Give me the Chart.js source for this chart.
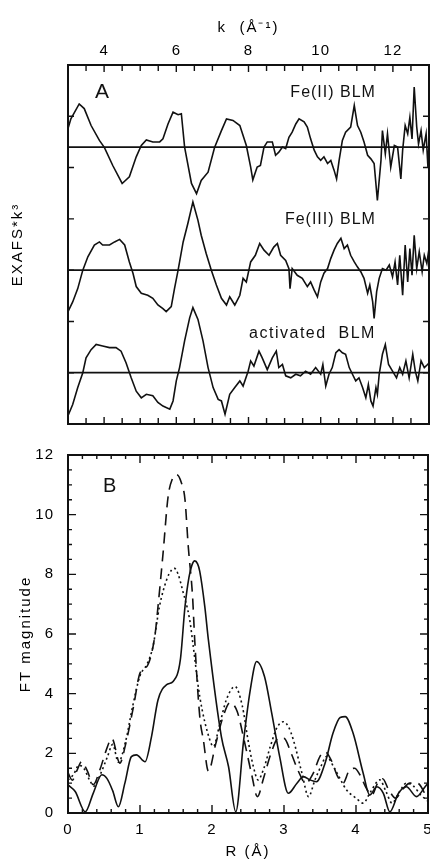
<!DOCTYPE html>
<html><head><meta charset="utf-8">
<script src="https://cdn.jsdelivr.net/npm/chart.js@4.4.0/dist/chart.umd.min.js"></script>
<style>
html,body{margin:0;padding:0;background:#fff;width:430px;height:863px;overflow:hidden}
#ca{position:absolute;left:0;top:0}
#cb{position:absolute;left:0;top:430px}
</style></head><body>
<canvas id="ca" width="430" height="432"></canvas>
<canvas id="cb" width="430" height="433"></canvas>
<script>
// ================= Panel A : EXAFS * k^3 =================
const kRange = [3, 13];
const kTickLabels = [4, 6, 8, 10, 12];
const exafsRange = [0, 7];
const seriesNamesA = ['Fe(II) BLM', 'Fe(III) BLM', 'activated  BLM'];
const seriesOffsetsA = [5.4, 3.0, 1.0];

const kFe2 = [3.0,3.08,3.31,3.45,3.64,3.87,4.01,4.24,4.5,4.7,4.89,5.03,5.17,5.35,5.54,5.63,5.77,5.91,6.05,6.14,6.23,6.42,6.56,6.69,6.88,7.06,7.25,7.39,7.57,7.76,7.94,8.06,8.12,8.24,8.33,8.43,8.52,8.66,8.75,8.84,8.94,9.03,9.12,9.21,9.31,9.4,9.54,9.63,9.72,9.82,9.91,10.0,10.09,10.19,10.28,10.37,10.44,10.51,10.6,10.69,10.83,10.93,11.02,11.11,11.2,11.3,11.39,11.48,11.57,11.67,11.71,11.79,11.85,11.94,12.04,12.13,12.22,12.27,12.34,12.41,12.47,12.53,12.59,12.66,12.71,12.78,12.84,12.92,12.97,13.0];
const sFe2 = [0.36,0.55,0.84,0.75,0.42,0.13,-0.01,-0.36,-0.71,-0.58,-0.19,0.03,0.14,0.10,0.10,0.16,0.45,0.68,0.63,0.65,0.0,-0.71,-0.91,-0.65,-0.49,-0.01,0.32,0.55,0.52,0.42,0.03,-0.39,-0.64,-0.39,-0.36,0.0,0.10,0.10,-0.16,-0.10,0.0,-0.03,0.19,0.29,0.45,0.55,0.49,0.39,0.16,-0.06,-0.19,-0.26,-0.19,-0.32,-0.26,-0.45,-0.62,-0.26,0.13,0.29,0.39,0.81,0.42,0.29,0.10,-0.16,-0.23,-0.32,-1.04,-0.26,0.32,-0.13,0.26,-0.39,0.03,0.0,-0.62,-0.06,0.42,0.26,0.58,0.16,1.17,0.39,0.06,0.32,-0.06,0.26,-0.39,0.06];

const kFe3 = [3.0,3.13,3.27,3.41,3.55,3.73,3.87,3.96,4.15,4.29,4.43,4.57,4.7,4.8,4.89,5.03,5.21,5.35,5.49,5.63,5.72,5.86,5.95,6.05,6.19,6.32,6.46,6.6,6.69,6.83,6.97,7.11,7.25,7.39,7.48,7.62,7.76,7.85,7.94,8.06,8.19,8.31,8.43,8.57,8.7,8.8,8.89,9.03,9.12,9.15,9.21,9.35,9.49,9.63,9.72,9.82,9.91,10.0,10.09,10.19,10.28,10.37,10.46,10.56,10.65,10.74,10.83,10.93,11.02,11.11,11.2,11.3,11.36,11.44,11.48,11.55,11.62,11.71,11.81,11.9,11.99,12.06,12.13,12.19,12.27,12.34,12.41,12.47,12.53,12.59,12.66,12.73,12.81,12.87,12.94,13.0];
const sFe3 = [-0.81,-0.62,-0.36,0.0,0.26,0.49,0.55,0.49,0.49,0.55,0.60,0.49,0.16,-0.06,-0.32,-0.45,-0.49,-0.55,-0.68,-0.75,-0.81,-0.71,-0.36,0.0,0.55,0.91,1.33,0.97,0.68,0.32,0.0,-0.29,-0.55,-0.68,-0.52,-0.68,-0.49,-0.16,-0.23,0.16,0.29,0.52,0.39,0.29,0.45,0.52,0.29,0.19,0.03,-0.36,0.03,-0.10,-0.16,-0.32,-0.23,-0.39,-0.52,-0.23,-0.06,0.03,0.23,0.39,0.52,0.62,0.42,0.49,0.29,0.16,0.06,-0.03,-0.16,-0.45,-0.29,-0.62,-0.94,-0.42,-0.16,0.03,0.0,0.10,-0.13,0.16,-0.29,0.29,-0.49,0.49,-0.23,0.42,-0.10,0.68,0.03,0.36,-0.03,0.29,0.13,0.42];

const kAct = [3.0,3.13,3.27,3.41,3.5,3.64,3.78,3.96,4.15,4.33,4.47,4.61,4.75,4.89,5.03,5.17,5.35,5.49,5.63,5.82,5.91,6.0,6.09,6.23,6.37,6.46,6.6,6.74,6.88,7.02,7.16,7.25,7.35,7.48,7.62,7.76,7.85,7.99,8.06,8.15,8.29,8.38,8.52,8.66,8.77,8.84,8.94,9.03,9.17,9.31,9.44,9.58,9.72,9.86,10.0,10.06,10.14,10.23,10.32,10.42,10.51,10.6,10.69,10.79,10.88,10.97,11.06,11.16,11.25,11.32,11.39,11.45,11.53,11.57,11.62,11.71,11.79,11.88,11.99,12.1,12.19,12.27,12.36,12.45,12.55,12.62,12.69,12.78,12.87,12.96,13.0];
const sAct = [-0.84,-0.62,-0.29,0.0,0.29,0.45,0.55,0.52,0.49,0.49,0.42,0.19,-0.10,-0.36,-0.49,-0.42,-0.45,-0.58,-0.65,-0.71,-0.55,-0.16,0.10,0.62,1.07,1.27,1.04,0.62,0.10,-0.29,-0.52,-0.55,-0.81,-0.42,-0.29,-0.16,-0.26,0.03,0.23,0.13,0.42,0.29,0.06,0.29,0.42,0.10,0.16,-0.06,-0.10,-0.03,-0.06,0.03,-0.03,0.10,-0.03,0.16,-0.26,-0.03,0.10,0.39,0.45,0.39,0.36,0.10,-0.03,-0.16,-0.10,-0.29,-0.49,-0.23,-0.55,-0.65,-0.29,-0.42,-0.03,0.36,0.55,0.16,0.03,-0.10,0.10,-0.03,0.23,-0.10,0.36,0.03,-0.16,0.23,0.10,0.16,0.19];

// ================= Panel B : FT magnitude =================
const rRange = [0, 5];
const rTickLabels = [0, 1, 2, 3, 4, 5];
const ftRange = [0, 12];
const ftTickLabels = [0, 2, 4, 6, 8, 10, 12];

const rSolid = [0,0.1,0.24,0.35,0.47,0.54,0.62,0.7,0.79,0.88,0.95,1.07,1.16,1.25,1.37,1.46,1.56,1.625,1.68,1.72,1.76,1.8,1.83,1.9,1.95,2.13,2.23,2.33,2.44,2.53,2.62,2.73,2.83,2.94,3.06,3.18,3.27,3.36,3.45,3.57,3.68,3.78,3.85,3.96,4.1,4.19,4.29,4.38,4.47,4.59,4.7,4.84,4.96,5.0];
const ftSolid = [0.94,0.72,0.04,0.66,1.28,1.16,0.75,0.21,1.0,1.89,1.95,1.72,2.56,3.79,4.3,4.41,5.13,6.92,7.9,8.3,8.45,8.35,8.1,6.92,5.8,2.56,1.55,0.04,2.45,4.1,5.08,4.57,3.34,1.89,0.66,1.0,1.22,1.11,1.05,1.67,2.67,3.2,3.23,2.67,1.33,0.6,0.88,0.66,0.04,0.66,0.88,0.55,0.88,1.0];

const rDash = [0,0.06,0.12,0.19,0.27,0.35,0.45,0.53,0.61,0.72,0.8,0.91,1.0,1.11,1.21,1.25,1.32,1.39,1.45,1.51,1.57,1.625,1.67,1.73,1.76,1.83,1.88,1.95,2.05,2.15,2.25,2.35,2.45,2.55,2.63,2.72,2.82,2.92,3.0,3.1,3.2,3.3,3.4,3.5,3.57,3.65,3.75,3.82,3.9,3.98,4.05,4.15,4.22,4.3,4.37,4.45,4.55,4.65,4.75,4.85,5.0];
const ftDash = [1.35,1.1,1.4,1.72,1.4,0.95,1.5,2.1,2.5,1.67,2.3,3.57,4.69,4.97,6.0,6.92,8.7,10.6,11.2,11.34,11.1,10.5,8.94,7.26,5.8,3.23,2.45,1.4,2.3,3.2,3.7,3.4,2.4,1.3,0.55,1.2,2.0,2.5,2.5,2.0,1.4,1.0,1.3,1.9,2.05,1.8,1.2,1.0,1.4,1.5,1.3,0.8,0.6,1.0,1.15,0.8,0.5,0.8,1.0,1.0,0.45];

const rDot = [0,0.08,0.15,0.22,0.3,0.36,0.45,0.55,0.62,0.7,0.8,0.9,1.0,1.1,1.18,1.27,1.37,1.44,1.48,1.53,1.59,1.69,1.74,1.83,1.97,2.02,2.1,2.2,2.32,2.42,2.5,2.57,2.64,2.72,2.81,2.9,2.99,3.06,3.13,3.25,3.34,3.43,3.52,3.59,3.7,3.87,4.0,4.1,4.2,4.33,4.42,4.5,4.6,4.7,4.8,4.9,5.0];
const ftDot = [1.1,1.3,1.6,1.5,1.1,0.9,1.3,1.9,2.3,1.7,2.4,3.6,4.6,5.0,5.58,6.92,7.82,8.15,8.2,8.0,7.48,6.48,5.58,3.9,2.45,2.23,2.9,3.8,4.24,3.6,2.45,1.6,1.11,1.5,2.23,2.85,3.06,2.9,2.45,1.33,0.55,1.11,1.6,1.89,1.5,0.77,0.5,0.33,0.7,1.11,0.7,0.33,0.7,1.0,0.9,0.6,0.4];

// ================= helpers =================
const FONT = "'Liberation Sans', Arial, Helvetica, sans-serif";
Chart.defaults.font.family = FONT;
Chart.defaults.color = '#000';
const INK = '#111';

// letter spacing: tick labels vs. axis titles (scanned typesetting is loosely spaced)
const spacingPlugin = (labelSp, titleSp) => ({
  id: 'spacing',
  beforeUpdate(c) { c.ctx.letterSpacing = labelSp; },
  afterLayout(c) {
    Object.values(c.scales).forEach(s => {
      if (s._spWrapped) return;
      const orig = s.drawTitle;
      s.drawTitle = function () {
        const ctx = this.ctx, prev = ctx.letterSpacing;
        ctx.letterSpacing = titleSp;
        orig.apply(this, arguments);
        ctx.letterSpacing = prev;
      };
      s._spWrapped = true;
    });
  },
  beforeDraw(c) { c.ctx.letterSpacing = labelSp; }
});

function pts(xs, ys, off) { return xs.map((x, i) => ({x: x, y: ys[i] + (off || 0)})); }

function frameTicks(cfg) {
  return {
    id: 'frameTicks',
    afterDatasetsDraw(chart) {
      const {ctx, chartArea: a, scales: {x, y}} = chart;
      ctx.save();
      ctx.strokeStyle = INK;
      ctx.lineWidth = 1.4;
      ctx.beginPath();
      const steps = (min, max, st) => { const out = []; const n = Math.round((max - min) / st); for (let i = 0; i <= n; i++) out.push(+(min + i * st).toFixed(4)); return out; };
      steps(x.min, x.max, cfg.xMinor).forEach(v => {
        const major = cfg.xMajor.some(m => Math.abs(m - v) < 1e-6);
        const L = major ? cfg.majLen : cfg.minLen;
        const px = x.getPixelForValue(v);
        ctx.moveTo(px, a.top); ctx.lineTo(px, a.top + L);
        ctx.moveTo(px, a.bottom); ctx.lineTo(px, a.bottom - L);
      });
      steps(y.min, y.max, cfg.yMinor).forEach(v => {
        const major = cfg.yMajor.some(m => Math.abs(m - v) < 1e-6);
        const L = major ? cfg.majLen : cfg.minLen;
        const py = y.getPixelForValue(v);
        ctx.moveTo(a.left, py); ctx.lineTo(a.left + L, py);
        ctx.moveTo(a.right, py); ctx.lineTo(a.right - L, py);
      });
      ctx.stroke();
      ctx.lineWidth = 2;
      ctx.strokeRect(a.left, a.top, a.right - a.left, a.bottom - a.top);
      ctx.restore();
    }
  };
}

function labelsPlugin(items) {
  return {
    id: 'labels',
    afterDraw(chart) {
      const {ctx, scales: {x, y}} = chart;
      ctx.save();
      ctx.fillStyle = INK;
      ctx.textBaseline = 'middle';
      items.forEach(it => {
        ctx.font = it.size + 'px ' + FONT;
        ctx.letterSpacing = it.sp;
        ctx.textAlign = it.align;
        ctx.fillText(it.text, x.getPixelForValue(it.x), y.getPixelForValue(it.y));
      });
      ctx.restore();
    }
  };
}

const zeroPad = (s) => { s.paddingLeft = 0; s.paddingRight = 0; s.paddingTop = 0; s.paddingBottom = 0; };
const noGrid = {display: false, drawTicks: false};

// ================= Chart A =================
const lineA = (data, w) => ({data, borderColor: INK, borderWidth: w, pointRadius: 0, tension: 0, fill: false});
const dsA = [
  lineA(pts(kFe2, sFe2, seriesOffsetsA[0]), 1.6),
  lineA(pts(kFe3, sFe3, seriesOffsetsA[1]), 1.6),
  lineA(pts(kAct, sAct, seriesOffsetsA[2]), 1.6)
];
seriesOffsetsA.forEach(off => dsA.push(lineA([{x: kRange[0], y: off}, {x: kRange[1], y: off}], 1.8)));

new Chart(document.getElementById('ca'), {
  type: 'line',
  data: {datasets: dsA},
  options: {
    responsive: false, animation: false, events: [],
    layout: {padding: {left: 0, right: 1, top: 0, bottom: 8}},
    plugins: {legend: {display: false}, tooltip: {enabled: false}},
    scales: {
      x: {
        type: 'linear', position: 'top', min: kRange[0], max: kRange[1],
        grid: noGrid, border: {display: false},
        afterBuildTicks: s => { s.ticks = kTickLabels.map(v => ({value: v})); },
        afterFit: s => { s.height = 65; zeroPad(s); },
        ticks: {font: {size: 15}, padding: 5, maxRotation: 0},
        title: {display: true, text: 'k  (Å⁻¹)', font: {size: 15}, padding: {top: 19, bottom: 0}}
      },
      y: {
        type: 'linear', min: exafsRange[0], max: exafsRange[1],
        grid: noGrid, border: {display: false},
        ticks: {display: false},
        afterFit: s => { s.width = 68; zeroPad(s); },
        title: {display: true, text: 'EXAFS*k³', font: {size: 15}, padding: {top: 9, bottom: 0}}
      }
    }
  },
  plugins: [spacingPlugin('1px', '2px'),
    frameTicks({xMinor: 0.5, xMajor: kTickLabels, yMinor: 1, yMajor: [], majLen: 7, minLen: 6}),
    labelsPlugin([
      {text: 'A', x: 3.94, y: 6.47, size: 21, align: 'center', sp: '0px'},
      {text: seriesNamesA[0], x: 11.53, y: 6.47, size: 16, align: 'right', sp: '1px'},
      {text: seriesNamesA[1], x: 11.53, y: 3.98, size: 16, align: 'right', sp: '1px'},
      {text: seriesNamesA[2], x: 11.53, y: 1.77, size: 16, align: 'right', sp: '1.5px'}
    ])]
});

// ================= Chart B =================
const lineB = (data, dash) => ({data, borderColor: INK, borderWidth: 1.6, borderDash: dash, pointRadius: 0, cubicInterpolationMode: 'monotone', fill: false});
new Chart(document.getElementById('cb'), {
  type: 'line',
  data: {datasets: [
    lineB(pts(rSolid, ftSolid), []),
    lineB(pts(rDash, ftDash), [11, 7]),
    lineB(pts(rDot, ftDot), [2, 3])
  ]},
  options: {
    responsive: false, animation: false, events: [],
    layout: {padding: {left: 0, right: 2, top: 25, bottom: 0}},
    plugins: {legend: {display: false}, tooltip: {enabled: false}},
    scales: {
      x: {
        type: 'linear', position: 'bottom', min: rRange[0], max: rRange[1],
        grid: noGrid, border: {display: false},
        afterBuildTicks: s => { s.ticks = rTickLabels.map(v => ({value: v})); },
        afterFit: s => { s.height = 50; zeroPad(s); },
        ticks: {font: {size: 15}, padding: 8, maxRotation: 0},
        title: {display: true, text: 'R (Å)', font: {size: 15}, padding: {top: 0, bottom: 2}}
      },
      y: {
        type: 'linear', min: ftRange[0], max: ftRange[1],
        grid: noGrid, border: {display: false},
        afterBuildTicks: s => { s.ticks = ftTickLabels.map(v => ({value: v})); },
        afterFit: s => { s.width = 68; zeroPad(s); },
        ticks: {font: {size: 15}, padding: 14},
        title: {display: true, text: 'FT magnitude', font: {size: 15}, padding: {top: 17, bottom: 0}}
      }
    }
  },
  plugins: [spacingPlugin('1px', '2px'),
    frameTicks({xMinor: 0.2, xMajor: rTickLabels, yMinor: 0.5, yMajor: ftTickLabels, majLen: 8, minLen: 4}),
    labelsPlugin([{text: 'B', x: 0.58, y: 10.94, size: 20, align: 'center', sp: '0px'}])]
});
</script>
</body></html>
